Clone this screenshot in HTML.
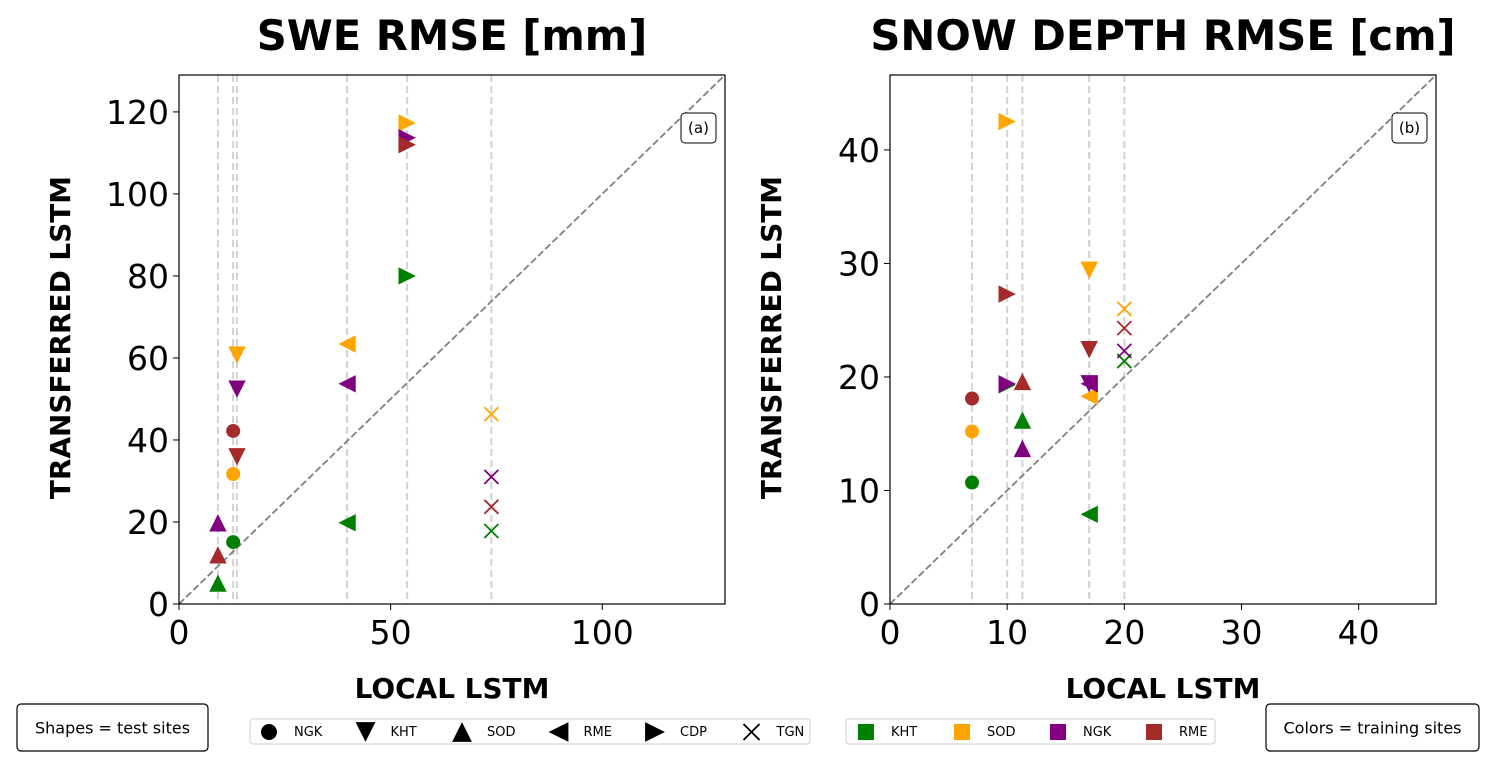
<!DOCTYPE html>
<html><head><meta charset="utf-8">
<style>
body{margin:0;background:#fff;width:1496px;height:768px;overflow:hidden;font-family:"DejaVu Sans","Liberation Sans",sans-serif;}
svg text{font-family:"DejaVu Sans","Liberation Sans",sans-serif;}
</style></head>
<body>
<svg id="fig" width="1496" height="768"></svg>
<script>
// ---- data ----
const colors = {KHT:'green', SOD:'orange', NGK:'purple', RME:'brown'};
const trainSites = ['KHT','SOD','NGK','RME'];
const shapeSites = ['NGK','KHT','SOD','RME','CDP','TGN'];
const shapeMarkers = ['o','v','^','<','>','x'];
// SWE: local x per test site, transferred y per training site (KHT,SOD,NGK,RME); null = absent
const sweLocal = [12.8, 13.7, 9.2, 39.7, 53.9, 73.8];
const sweKHT = [15.1, null, 5.1, 19.8, 80.0, 17.8];
const sweSOD = [31.7, 60.7, null, 63.4, 117.3, 46.3];
const sweNGK = [null, 52.4, 19.8, 53.7, 113.7, 31.0];
const sweRME = [42.2, 35.9, 12.0, null, 112.0, 23.7];
const sweTicks = [0, 20, 40, 60, 80, 100, 120];
const sweXTicks = [0, 50, 100];
// Snow depth
const sdLocal = [7.0, 17.0, 11.3, 17.0, 10.0, 20.0];
const sdKHT = [10.7, null, 16.2, 7.9, 19.3, 21.4];
const sdSOD = [15.2, 29.4, null, 18.3, 42.5, 26.0];
const sdNGK = [null, 19.4, 13.7, 19.4, 19.4, 22.3];
const sdRME = [18.1, 22.4, 19.6, null, 27.3, 24.3];
const sdTicks = [0, 10, 20, 30, 40];
const sdXTicks = [0, 10, 20, 30, 40];

const NS = 'http://www.w3.org/2000/svg';
const fig = document.getElementById('fig');
function mk(tag, attrs, parent){const e=document.createElementNS(NS,tag);for(const k in attrs)e.setAttribute(k,attrs[k]);(parent||fig).appendChild(e);return e;}

function marker(g, type, cx, cy, color, s){
  let e;
  if(type==='o'){e=mk('circle',{cx:cx,cy:cy,r:s*0.5,fill:color},g);}
  else if(type==='x'){e=mk('path',{d:`M${cx-s/2},${cy-s/2}L${cx+s/2},${cy+s/2}M${cx-s/2},${cy+s/2}L${cx+s/2},${cy-s/2}`,stroke:color,'stroke-width':1.8,fill:'none'},g);}
  else{
    const h=s*0.62; let p;
    if(type==='v')p=[[cx-h,cy-h],[cx+h,cy-h],[cx,cy+h]];
    if(type==='^')p=[[cx-h,cy+h],[cx+h,cy+h],[cx,cy-h]];
    if(type==='<')p=[[cx+h,cy-h],[cx+h,cy+h],[cx-h,cy]];
    if(type==='>')p=[[cx-h,cy-h],[cx-h,cy+h],[cx+h,cy]];
    e=mk('polygon',{points:p.map(q=>q.join(',')).join(' '),fill:color},g);
  }
  return e;
}

function chart(opts){
  const {x0,x1,y0,y1,max,local,series,yt,xt,title,panel,name}=opts;
  const g=mk('g',{});
  
  
  const sx=v=>x0+(x1-x0)*v/max, sy=v=>y1-(y1-y0)*v/max;
  local.forEach(v=>{const l=mk('line',{x1:sx(v),x2:sx(v),y1:y0,y2:y1,stroke:'#d3d3d3','stroke-width':2,'stroke-dasharray':'7,4'},g);
    });
  const d=mk('line',{x1:sx(0),y1:sy(0),x2:sx(max),y2:sy(max),stroke:'#808080','stroke-width':1.8,'stroke-dasharray':'7,3'},g);
  
  series.forEach((arr,si)=>{
    arr.forEach((v,i)=>{ if(v===null)return;
      const m=marker(g,shapeMarkers[i],sx(local[i]),sy(v),colors[trainSites[si]],14);
      
      
    });
  });
  const fr=mk('rect',{x:x0,y:y0,width:x1-x0,height:y1-y0,fill:'none',stroke:'#000','stroke-width':1.2},g);
  
  yt.forEach(v=>{mk('line',{x1:x0-6,x2:x0,y1:sy(v),y2:sy(v),stroke:'#000'},g);
    const t=mk('text',{x:x0-10,y:sy(v)+12,'text-anchor':'end','font-size':33},g);t.textContent=v;
    });
  xt.forEach(v=>{mk('line',{x1:sx(v),x2:sx(v),y1:y1,y2:y1+6,stroke:'#000'},g);
    const t=mk('text',{x:sx(v),y:y1+40,'text-anchor':'middle','font-size':33},g);t.textContent=v;
    });
  const ti=mk('text',{x:(x0+x1)/2,y:50,'text-anchor':'middle','font-size':41.7,'font-weight':'bold'},g);ti.textContent=title;
  
  const xl=mk('text',{x:(x0+x1)/2,y:698,'text-anchor':'middle','font-size':27.9,'font-weight':'bold'},g);xl.textContent='LOCAL LSTM';
  
  const yl=mk('text',{x:0,y:0,'text-anchor':'middle','font-size':27.9,'font-weight':'bold',transform:`translate(${x0-109},${(y0+y1)/2-2}) rotate(-90)`},g);yl.textContent='TRANSFERRED LSTM';
  
  const pb=mk('rect',{x:x1-44,y:113,width:35,height:30,rx:4,fill:'#fff',stroke:'#000'},g);
  
  const pt=mk('text',{x:x1-26.5,y:133,'text-anchor':'middle','font-size':15},g);pt.textContent=panel;
  
}
chart({x0:179,x1:725,y0:75,y1:604,max:129,local:sweLocal,series:[sweKHT,sweSOD,sweNGK,sweRME],yt:sweTicks,xt:sweXTicks,title:'SWE RMSE [mm]',panel:'(a)',name:'swe-chart'});
chart({x0:890,x1:1436,y0:75,y1:604,max:46.6,local:sdLocal,series:[sdKHT,sdSOD,sdNGK,sdRME],yt:sdTicks,xt:sdXTicks,title:'SNOW DEPTH RMSE [cm]',panel:'(b)',name:'snow-depth-chart'});

function box(x,y,w,h,txt,name){
  const r=mk('rect',{x:x,y:y,width:w,height:h,rx:4,fill:'#fff',stroke:'#000','stroke-width':1.2});
  
  const t=mk('text',{x:x+w/2,y:y+h/2+6,'text-anchor':'middle','font-size':16},undefined);t.textContent=txt;
  
}
box(17,704,191,47,'Shapes = test sites','shapes-note');
box(1266,704,213,47,'Colors = training sites','colors-note');
const l1=mk('rect',{x:250,y:719,width:560,height:25,rx:3,fill:'#fff',stroke:'#ccc'});

shapeSites.forEach((s,i)=>{const cx=269+i*96.5;
  const m=marker(fig,shapeMarkers[i],cx,732,'#000',16);
  
  const t=mk('text',{x:cx+25,y:736,'font-size':13});t.textContent=s;
  });
const l2=mk('rect',{x:846,y:719,width:369,height:25,rx:3,fill:'#fff',stroke:'#ccc'});

trainSites.forEach((s,i)=>{const x=858+i*96;
  const r=mk('rect',{x:x,y:724,width:16,height:16,fill:colors[s]});
  
  const t=mk('text',{x:x+33,y:736,'font-size':13});t.textContent=s;
  });
</script>
</body></html>
